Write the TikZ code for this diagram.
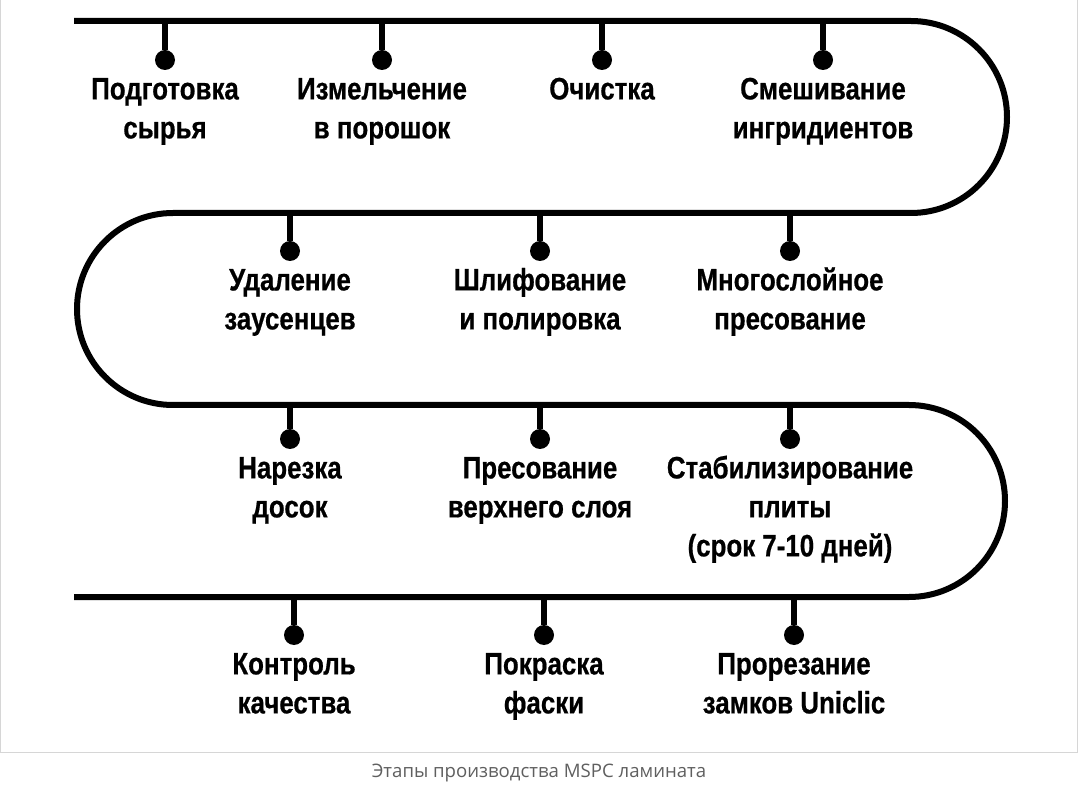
\documentclass[tikz,border=0pt]{standalone}
\usepackage{fontspec}
\setmainfont{Liberation Sans}[FakeStretch=0.835, BoldFeatures={FakeBold=0.6}]
\newfontfamily\capfont{Open Sans}
\usetikzlibrary{positioning}
\definecolor{framegray}{RGB}{214,214,214}
\definecolor{capgray}{RGB}{95,95,95}
% Strut that fixes the height of a label's first line.
\newcommand{\topstrut}{\rule{0pt}{24pt}}

\begin{document}
\begin{tikzpicture}[x=1pt, y=1pt,
    track/.style={line width=6pt},
    stem/.style={line width=6pt},
    dot/.style={circle, fill, inner sep=0pt, minimum size=20pt},
    stage/.style={align=center, inner sep=0pt, font=\fontsize{31}{39}\selectfont\bfseries}]
    \useasboundingbox (0,0) rectangle (1080,-794);
    % Frame and caption.
    \draw[framegray, line width=1pt] (0.5,0) -- (0.5,-752) -- (1077,-752) -- (1077,0);
    \node[color=capgray, font=\capfont\fontsize{18.6}{22}\selectfont] (cap) at (539,-773) {Этапы производства MSPC ламината};

    % The winding production line.
    \draw[track] (74,-21) -- (911,-21)
        arc[start angle=90, end angle=-90, radius=96] -- (173,-213)
        arc[start angle=90, end angle=270, radius=96] -- (909,-405)
        arc[start angle=90, end angle=-90, radius=96] -- (74,-597);

    % Row 1.
    \coordinate (t1) at (165,-21);
    \coordinate (t2) at (382,-21);
    \coordinate (t3) at (602,-21);
    \coordinate (t4) at (823,-21);
    \node[dot] (d1) at (165,-60) {};
    \node[dot] (d2) at (382,-60) {};
    \node[dot] (d3) at (602,-60) {};
    \node[dot] (d4) at (823,-60) {};
    \draw[stem] (t1) -- (d1);
    \draw[stem] (t2) -- (d2);
    \draw[stem] (t3) -- (d3);
    \draw[stem] (t4) -- (d4);
    \node[stage, below=5pt of d1] (s1) {\topstrut Подготовка\\сырья};
    \node[stage, below=5pt of d2] (s2) {\topstrut Измельчение\\в порошок};
    \node[stage, below=5pt of d3] (s3) {\topstrut Очистка};
    \node[stage, below=5pt of d4] (s4) {\topstrut Смешивание\\ингридиентов};

    % Row 2.
    \coordinate (t5) at (790,-213);
    \coordinate (t6) at (540,-213);
    \coordinate (t7) at (290,-213);
    \node[dot] (d5) at (790,-251) {};
    \node[dot] (d6) at (540,-251) {};
    \node[dot] (d7) at (290,-251) {};
    \draw[stem] (t5) -- (d5);
    \draw[stem] (t6) -- (d6);
    \draw[stem] (t7) -- (d7);
    \node[stage, below=5pt of d5] (s5) {\topstrut Многослойное\\пресование};
    \node[stage, below=5pt of d6] (s6) {\topstrut Шлифование\\и полировка};
    \node[stage, below=5pt of d7] (s7) {\topstrut Удаление\\заусенцев};

    % Row 3.
    \coordinate (t8) at (290,-405);
    \coordinate (t9) at (540,-405);
    \coordinate (t10) at (790,-405);
    \node[dot] (d8) at (290,-439) {};
    \node[dot] (d9) at (540,-439) {};
    \node[dot] (d10) at (790,-439) {};
    \draw[stem] (t8) -- (d8);
    \draw[stem] (t9) -- (d9);
    \draw[stem] (t10) -- (d10);
    \node[stage, below=5pt of d8] (s8) {\topstrut Нарезка\\досок};
    \node[stage, below=5pt of d9] (s9) {\topstrut Пресование\\верхнего слоя};
    \node[stage, below=5pt of d10] (s10) {\topstrut Стабилизирование\\плиты\\(срок 7-10 дней)};

    % Row 4.
    \coordinate (t11) at (794,-597);
    \coordinate (t12) at (544,-597);
    \coordinate (t13) at (294,-597);
    \node[dot] (d11) at (794,-635) {};
    \node[dot] (d12) at (544,-635) {};
    \node[dot] (d13) at (294,-635) {};
    \draw[stem] (t11) -- (d11);
    \draw[stem] (t12) -- (d12);
    \draw[stem] (t13) -- (d13);
    \node[stage, below=5pt of d11] (s11) {\topstrut Прорезание\\замков Uniclic};
    \node[stage, below=5pt of d12] (s12) {\topstrut Покраска\\фаски};
    \node[stage, below=5pt of d13] (s13) {\topstrut Контроль\\качества};
\end{tikzpicture}
\end{document}
